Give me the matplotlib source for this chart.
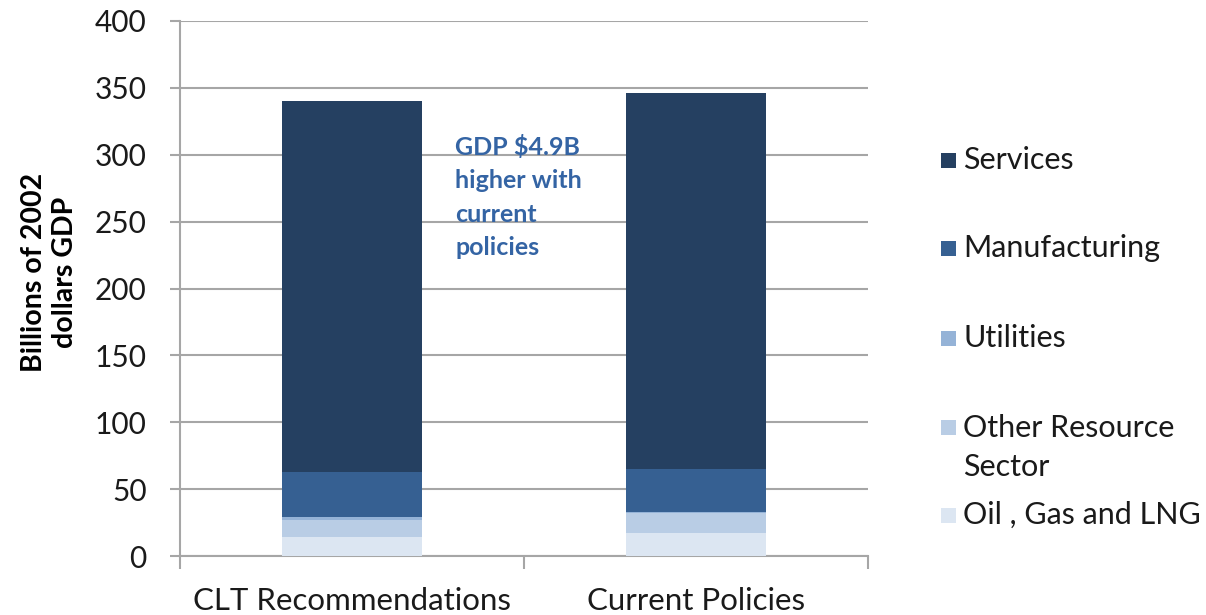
import matplotlib
matplotlib.use("Agg")
import matplotlib.pyplot as plt
from matplotlib.patches import Rectangle
import numpy as np

plt.rcParams['font.family'] = ['Lato', 'DejaVu Sans']

categories = ["CLT Recommendations", "Current Policies"]
series_names = ["Oil , Gas and LNG", "Other Resource\nSector", "Utilities", "Manufacturing", "Services"]
oil_gas_lng = [14.3, 17.3]
other_resource = [12.5, 15.2]
utilities = [2.5, 0.3]
manufacturing = [33.7, 32.0]
services = [277.3, 281.5]
colors = ["#DCE6F2", "#B9CDE5", "#95B3D7", "#366092", "#254061"]
yticks = [0, 50, 100, 150, 200, 250, 300, 350, 400]

W, H = 1206, 615
fig = plt.figure(figsize=(12.06, 6.15), dpi=100)
ax = fig.add_axes([180/W, 1-556/H, (868-180)/W, (556-21)/H])

x = np.arange(len(categories))
bottom = np.zeros(len(categories))
for vals, col in zip([oil_gas_lng, other_resource, utilities, manufacturing, services], colors):
    ax.bar(x, vals, width=0.405, bottom=bottom, color=col, zorder=3)
    bottom += np.array(vals)

ax.set_xlim(-0.5, 1.5)
ax.set_ylim(0, 400)
ax.set_yticks(yticks)
ax.yaxis.grid(True, color="#A6A6A6", linewidth=1.5, zorder=0)
ax.set_axisbelow(True)
for s in ["top", "right"]:
    ax.spines[s].set_visible(False)
for s in ["left", "bottom"]:
    ax.spines[s].set_color("#A6A6A6")
    ax.spines[s].set_linewidth(1.5)
ax.tick_params(axis="y", length=7, width=1.5, color="#A6A6A6", labelsize=21.5, pad=17,
               labelcolor="#1a1a1a")
ax.set_xticks([-0.5, 0.5, 1.5])
ax.set_xticklabels(["", "", ""])
ax.tick_params(axis="x", which="major", length=9, width=1.5, color="#A6A6A6")
ax.set_xticks(x, minor=True)
ax.set_xticklabels(categories, minor=True)
ax.tick_params(axis="x", which="minor", length=0, labelsize=22.5, pad=22, labelcolor="#1a1a1a")

ax.set_ylabel("Billions of 2002\ndollars GDP", fontsize=20.5, fontweight="bold", linespacing=1.25)
ax.yaxis.set_label_coords(-(180-78)/(868-180), (556-272)/(556-21))

ax.text(0.30, 315, "GDP $4.9B\nhigher with\ncurrent\npolicies", fontsize=18, fontweight="bold",
        color="#3464A4", va="top", ha="left", linespacing=1.55, zorder=4)

# legend (manual layout, top to bottom)
legend_rows = [(160, "Services", colors[4]), (248, "Manufacturing", colors[3]),
               (338, "Utilities", colors[2]), (427, "Other Resource\nSector", colors[1]),
               (515, "Oil , Gas and LNG", colors[0])]
for ypx, lab, col in legend_rows:
    fig.patches.append(Rectangle((941/W, 1-(ypx+8)/H), 15/W, 15/H, transform=fig.transFigure,
                                 facecolor=col, edgecolor="none"))
    if "\n" in lab:
        fig.text(963/W, 1-(ypx-13)/H, lab, fontsize=22, va="top", ha="left", color="#1a1a1a",
                 linespacing=1.5)
    else:
        fig.text(963/W, 1-ypx/H, lab, fontsize=22, va="center", ha="left", color="#1a1a1a")

fig.savefig("out.png", dpi=100)
